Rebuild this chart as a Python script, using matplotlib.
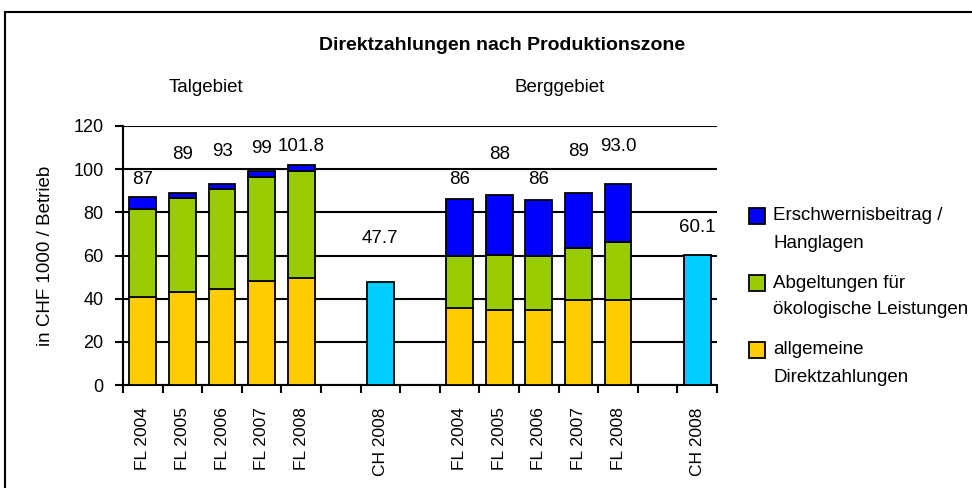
import matplotlib
matplotlib.use("Agg")
import matplotlib.pyplot as plt
from matplotlib.patches import Rectangle
import numpy as np

plt.rcParams['font.family'] = ["Liberation Sans", "DejaVu Sans"]
FS, FST, FSX, FSTITLE = 13.5, 13, 12.5, 14

# ---- data ----
categories = ["FL 2004", "FL 2005", "FL 2006", "FL 2007", "FL 2008", "",
              "CH 2008", "",
              "FL 2004", "FL 2005", "FL 2006", "FL 2007", "FL 2008", "",
              "CH 2008"]
allgemeine = [41.0, 43.0, 44.7, 48.4, 49.4, 0, 0, 0, 35.5, 34.8, 34.8, 39.4, 39.4, 0, 0]
oekologisch = [40.5, 43.5, 46.0, 47.8, 49.8, 0, 0, 0, 24.1, 25.6, 24.8, 23.9, 26.7, 0, 0]
erschwernis = [5.5, 2.5, 2.5, 2.8, 2.6, 0, 0, 0, 26.4, 27.6, 26.2, 25.7, 26.9, 0, 0]
ch_total = [0, 0, 0, 0, 0, 0, 47.7, 0, 0, 0, 0, 0, 0, 0, 60.1]
total_labels = ["87", "89", "93", "99", "101.8", "", "47.7", "",
                "86", "88", "86", "89", "93.0", "", "60.1"]
label_y = [95, 106.6, 108, 109.8, 110.7, 0, 68.1, 0,
           95, 106.6, 95, 108, 110.7, 0, 72.8]  # label placement (layout)

legend_labels = ["Erschwernisbeitrag /\nHanglagen",
                 "Abgeltungen für\nökologische Leistungen",
                 "allgemeine\nDirektzahlungen"]

c_yellow = "#FFCC00"
c_green = "#99CC00"
c_blue = "#0000FF"
c_cyan = "#00CCFF"

fig = plt.figure(figsize=(9.72, 4.88), dpi=100)
ax = fig.add_axes([123/972, 1-385/488, (717-123)/972, (385-126)/488])

x = np.arange(len(categories))
w = 0.68
a = np.array(allgemeine); o = np.array(oekologisch); e = np.array(erschwernis)
stacked = a + o + e > 0
ekw = dict(edgecolor="black", linewidth=1.3, zorder=3)
ax.bar(x[stacked], a[stacked], w, color=c_yellow, **ekw)
ax.bar(x[stacked], o[stacked], w, bottom=a[stacked], color=c_green, **ekw)
ax.bar(x[stacked], e[stacked], w, bottom=(a + o)[stacked], color=c_blue, **ekw)
ch = np.array(ch_total)
ax.bar(x[ch > 0], ch[ch > 0], w, color=c_cyan, **ekw)

for xi, lab, ly in zip(x, total_labels, label_y):
    if lab:
        ax.text(xi, ly, lab, ha="center", va="center", fontsize=FS)

ax.set_xlim(-0.5, len(categories) - 0.5)
ax.set_ylim(0, 120)
ax.set_yticks(range(0, 121, 20))
ax.yaxis.grid(True, color="black", linewidth=1.5, zorder=0)
ax.set_axisbelow(True)
for s in ["top", "right"]:
    ax.spines[s].set_visible(False)
ax.spines["left"].set_linewidth(1.5)
ax.spines["bottom"].set_linewidth(1.5)
ax.tick_params(axis="y", length=6, width=1.5, pad=8, labelsize=FST)

ax.set_xticks(x)
ax.set_xticklabels(categories, rotation=90, fontsize=FSX, va="top")
ax.tick_params(axis="x", which="major", length=0, pad=16)
ax.set_xticks(np.arange(-0.5, len(categories), 1.0), minor=True)
ax.tick_params(axis="x", which="minor", length=6, width=1.5)

ax.set_ylabel("in CHF 1000 / Betrieb", fontsize=FS, labelpad=14)

fig.text(502/972, 1-45/488, "Direktzahlungen nach Produktionszone",
         ha="center", va="center", fontsize=FSTITLE, fontweight="bold")
fig.text(206/972, 1-88/488, "Talgebiet", ha="center", va="center", fontsize=FS)
fig.text(560/972, 1-88/488, "Berggebiet", ha="center", va="center", fontsize=FS)

# legend (manual)
leg_colors = [c_blue, c_green, c_yellow]
leg_centers = [216, 283, 350]
line_gap = 27
for col, lab, yc in zip(leg_colors, legend_labels, leg_centers):
    fig.patches.append(Rectangle((749/972, 1-(yc+8)/488), 16/972, 16/488,
                                 transform=fig.transFigure, facecolor=col,
                                 edgecolor="black", linewidth=1.3))
    for k, line in enumerate(lab.split("\n")):
        fig.text(773/972, 1-(yc + k*line_gap)/488, line, ha="left",
                 va="center", fontsize=FS)

# outer frame
fig.patches.append(Rectangle((5/972, -0.1), 1.1, 1.1 - 12/488,
                             transform=fig.transFigure, fill=False,
                             edgecolor="black", linewidth=1.5))

fig.savefig("out.png", dpi=100)
